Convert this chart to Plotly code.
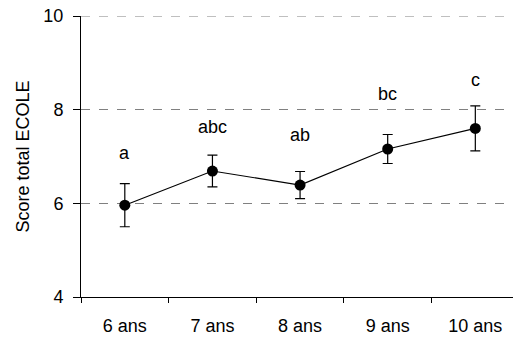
import plotly.graph_objects as go

categories = ["6 ans", "7 ans", "8 ans", "9 ans", "10 ans"]
means = [5.96, 6.69, 6.39, 7.16, 7.60]
errors = [0.46, 0.34, 0.29, 0.31, 0.48]
letters = ["a", "abc", "ab", "bc", "c"]
letter_y = [7.07, 7.62, 7.46, 8.34, 8.63]
y_ticks = [4, 6, 8, 10]

FONT = "Arial, Liberation Sans, sans-serif"

fig = go.Figure()
fig.add_trace(go.Scatter(
    x=categories, y=means,
    mode="lines+markers",
    line=dict(color="black", width=1.2),
    marker=dict(color="black", size=11),
    error_y=dict(type="data", array=errors, color="black", thickness=1.2, width=5),
    showlegend=False,
))
for c, t, yy in zip(categories, letters, letter_y):
    fig.add_annotation(x=c, y=yy, text=t, showarrow=False,
                       font=dict(family=FONT, size=18, color="black"))

# top gridline at the upper edge of the plot
fig.add_shape(type="line", xref="paper", yref="y", x0=0, x1=1, y0=y_ticks[-1], y1=y_ticks[-1],
              line=dict(color="#808080", width=1, dash="dash"), layer="below")

fig.update_layout(
    width=513, height=340,
    margin=dict(l=81, r=0, t=16, b=43),
    paper_bgcolor="white", plot_bgcolor="white",
    font=dict(family=FONT, size=18, color="black"),
)
fig.update_xaxes(
    type="category", range=[-0.5, 4.43],
    showline=True, linecolor="black", linewidth=1,
    ticks="outside", tickson="boundaries", ticklen=5, tickcolor="black",
    ticklabelstandoff=12, showgrid=False,
)
fig.update_yaxes(
    range=[4, 10], tickvals=y_ticks,
    showline=True, linecolor="black", linewidth=1,
    ticks="outside", ticklen=7, tickcolor="black",
    ticklabelstandoff=6,
    showgrid=True, gridcolor="#808080", griddash="dash", gridwidth=1,
    zeroline=False,
    title=dict(text="Score total ECOLE", font=dict(size=18), standoff=9),
)
fig.write_html("out.html")
